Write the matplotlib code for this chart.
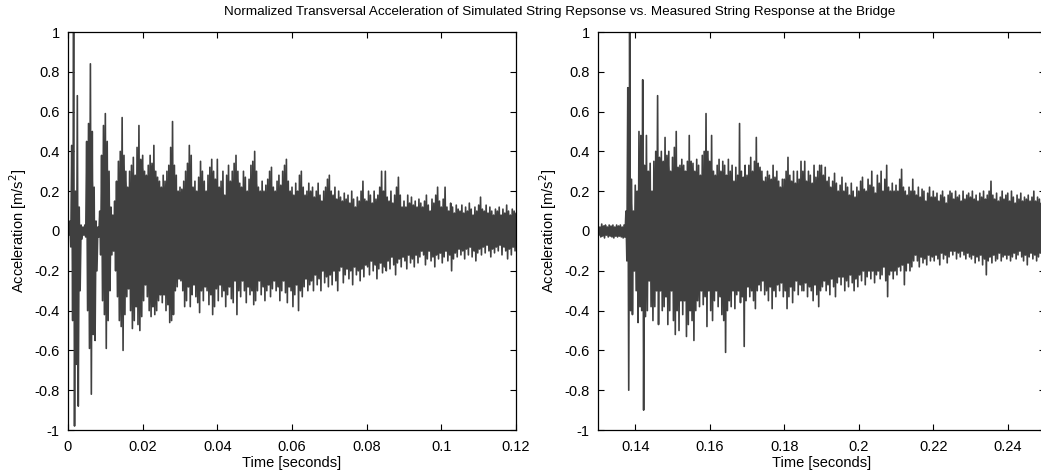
import numpy as np
import matplotlib
matplotlib.use("Agg")
import matplotlib.pyplot as plt
from matplotlib.ticker import FuncFormatter

plt.rcParams['font.family'] = ['Liberation Sans', 'DejaVu Sans']

# ---------------- data (peak envelopes, dt = 0.5 ms) ----------------
sim_t0 = 0.0
meas_t0 = 0.13
dt = 0.0005

sim_upper = [
    0.02, 0.05, 0.43, 1.0, 0.2, 0.68, 0.12, 0.03, 0.02, 0.03,
    0.45, 0.54, 0.84, 0.5, 0.22, 0.05, 0.02, 0.1, 0.38, 0.53,
    0.59, 0.45, 0.3, 0.12, 0.08, 0.15, 0.25, 0.35, 0.4, 0.57,
    0.38, 0.3, 0.22, 0.3, 0.33, 0.37, 0.28, 0.42, 0.53, 0.36,
    0.38, 0.3, 0.28, 0.33, 0.38, 0.34, 0.43, 0.3, 0.27, 0.25,
    0.22, 0.28, 0.25, 0.3, 0.33, 0.42, 0.55, 0.33, 0.28, 0.2,
    0.22, 0.21, 0.25, 0.3, 0.34, 0.43, 0.38, 0.22, 0.25, 0.2,
    0.27, 0.35, 0.3, 0.25, 0.2, 0.28, 0.32, 0.36, 0.3, 0.26,
    0.36, 0.22, 0.25, 0.3, 0.18, 0.28, 0.33, 0.25, 0.3, 0.34,
    0.38, 0.3, 0.24, 0.22, 0.3, 0.27, 0.2, 0.26, 0.33, 0.35,
    0.4, 0.3, 0.22, 0.2, 0.25, 0.2, 0.23, 0.26, 0.3, 0.32,
    0.22, 0.2, 0.25, 0.28, 0.23, 0.3, 0.33, 0.36, 0.25, 0.2,
    0.22, 0.18, 0.24, 0.2, 0.28, 0.3, 0.22, 0.18, 0.2, 0.24,
    0.2, 0.22, 0.17, 0.2, 0.24, 0.18, 0.15, 0.2, 0.22, 0.26,
    0.28, 0.2, 0.18, 0.22, 0.16, 0.2, 0.17, 0.15, 0.19, 0.16,
    0.18, 0.14, 0.2, 0.16, 0.12, 0.17, 0.15, 0.2, 0.25, 0.16,
    0.15, 0.2, 0.18, 0.14, 0.2, 0.16, 0.18, 0.22, 0.3, 0.2,
    0.3, 0.17, 0.15, 0.2, 0.14, 0.18, 0.22, 0.27, 0.18, 0.12,
    0.15, 0.12, 0.18, 0.14, 0.17, 0.13, 0.15, 0.12, 0.16, 0.14,
    0.12, 0.15, 0.18, 0.13, 0.1, 0.16, 0.14, 0.18, 0.22, 0.15,
    0.12, 0.16, 0.22, 0.12, 0.1, 0.14, 0.12, 0.09, 0.13, 0.11,
    0.1, 0.13, 0.09, 0.12, 0.1, 0.14, 0.11, 0.08, 0.12, 0.1,
    0.13, 0.17, 0.11, 0.1, 0.13, 0.09, 0.12, 0.1, 0.08, 0.11,
    0.1, 0.12, 0.08, 0.11, 0.09, 0.13, 0.1, 0.08, 0.11, 0.1,
    0.09,
]
sim_lower = [
    -0.02, -0.08, -0.45, -0.98, -0.67, -0.88, -0.3, -0.04, -0.02, -0.03,
    -0.4, -0.59, -0.82, -0.52, -0.55, -0.2, -0.03, -0.12, -0.35, -0.42,
    -0.59, -0.45, -0.3, -0.12, -0.1, -0.2, -0.33, -0.45, -0.48, -0.6,
    -0.42, -0.33, -0.29, -0.4, -0.49, -0.45, -0.38, -0.47, -0.5, -0.43,
    -0.35, -0.27, -0.33, -0.4, -0.43, -0.38, -0.42, -0.4, -0.35, -0.32,
    -0.36, -0.32, -0.4, -0.37, -0.46, -0.45, -0.42, -0.3, -0.28, -0.24,
    -0.25, -0.3, -0.38, -0.35, -0.28, -0.38, -0.32, -0.27, -0.33, -0.36,
    -0.41, -0.3, -0.35, -0.28, -0.3, -0.37, -0.32, -0.42, -0.38, -0.29,
    -0.35, -0.27, -0.33, -0.3, -0.38, -0.32, -0.28, -0.34, -0.36, -0.25,
    -0.42, -0.3, -0.33, -0.25, -0.3, -0.36, -0.28, -0.32, -0.3, -0.37,
    -0.35, -0.3, -0.25, -0.32, -0.28, -0.35, -0.3, -0.27, -0.33, -0.29,
    -0.25, -0.3, -0.28, -0.35, -0.3, -0.25, -0.31, -0.36, -0.28, -0.3,
    -0.38, -0.32, -0.27, -0.4, -0.3, -0.33, -0.28, -0.24, -0.3, -0.27,
    -0.25, -0.3, -0.22, -0.27, -0.24, -0.3, -0.2, -0.26, -0.23, -0.28,
    -0.22, -0.27, -0.2, -0.25, -0.3, -0.2, -0.18, -0.26, -0.22, -0.19,
    -0.24, -0.2, -0.27, -0.18, -0.22, -0.2, -0.25, -0.19, -0.23, -0.17,
    -0.18, -0.22, -0.15, -0.2, -0.17, -0.24, -0.19, -0.16, -0.21, -0.18,
    -0.2, -0.15, -0.19, -0.13, -0.17, -0.22, -0.16, -0.14, -0.18, -0.13,
    -0.15, -0.19, -0.12, -0.16, -0.14, -0.18, -0.12, -0.16, -0.13, -0.1,
    -0.12, -0.17, -0.14, -0.1, -0.15, -0.13, -0.18, -0.12, -0.14, -0.11,
    -0.16, -0.13, -0.1, -0.15, -0.12, -0.2, -0.14, -0.11, -0.13, -0.09,
    -0.12, -0.1, -0.14, -0.09, -0.12, -0.08, -0.13, -0.1, -0.15, -0.11,
    -0.09, -0.12, -0.08, -0.11, -0.07, -0.1, -0.13, -0.09, -0.11, -0.08,
    -0.1, -0.07, -0.12, -0.08, -0.1, -0.14, -0.09, -0.12, -0.08, -0.1,
    -0.1,
]

meas_upper = [
    0.03, 0.02, 0.035, 0.025, 0.03, 0.02, 0.03, 0.025, 0.03, 0.02,
    0.03, 0.025, 0.03, 0.02, 0.03, 0.1, 0.72, 1.0, 0.26, 0.1,
    0.23, 0.2, 0.5, 0.48, 0.76, 0.33, 0.48, 0.3, 0.34, 0.2,
    0.35, 0.4, 0.68, 0.37, 0.4, 0.35, 0.47, 0.38, 0.4, 0.3,
    0.37, 0.42, 0.5, 0.32, 0.33, 0.36, 0.33, 0.3, 0.35, 0.48,
    0.35, 0.34, 0.3, 0.36, 0.33, 0.28, 0.38, 0.4, 0.59, 0.4,
    0.35, 0.48, 0.3, 0.28, 0.33, 0.36, 0.3, 0.35, 0.33, 0.28,
    0.36, 0.3, 0.33, 0.25, 0.32, 0.28, 0.54, 0.3, 0.27, 0.33,
    0.28, 0.33, 0.37, 0.3, 0.35, 0.47, 0.34, 0.32, 0.3, 0.25,
    0.27, 0.3, 0.28, 0.26, 0.33, 0.27, 0.3, 0.25, 0.22, 0.26,
    0.26, 0.3, 0.37, 0.28, 0.25, 0.3, 0.24, 0.3, 0.26, 0.35,
    0.3, 0.35, 0.25, 0.3, 0.28, 0.24, 0.33, 0.27, 0.3, 0.33,
    0.33, 0.28, 0.32, 0.25, 0.27, 0.22, 0.25, 0.29, 0.24, 0.2,
    0.23, 0.27, 0.2, 0.24, 0.22, 0.18, 0.24, 0.2, 0.17, 0.22,
    0.2, 0.25, 0.27, 0.21, 0.2, 0.26, 0.23, 0.3, 0.22, 0.19,
    0.28, 0.24, 0.3, 0.2, 0.26, 0.33, 0.22, 0.2, 0.24, 0.2,
    0.23, 0.2, 0.26, 0.31, 0.22, 0.2, 0.18, 0.22, 0.2, 0.26,
    0.2, 0.18, 0.22, 0.17, 0.21, 0.2, 0.15, 0.19, 0.22, 0.17,
    0.2, 0.17, 0.19, 0.15, 0.18, 0.2, 0.17, 0.14, 0.18, 0.2,
    0.19, 0.16, 0.2, 0.17, 0.18, 0.15, 0.2, 0.16, 0.18, 0.19,
    0.17, 0.2, 0.16, 0.18, 0.15, 0.19, 0.17, 0.2, 0.16, 0.18,
    0.2, 0.25, 0.18, 0.16, 0.19, 0.15, 0.17, 0.2, 0.16, 0.18,
    0.19, 0.15, 0.2, 0.17, 0.14, 0.18, 0.16, 0.19, 0.15, 0.17,
    0.16, 0.18, 0.15, 0.17, 0.2, 0.15, 0.17, 0.16, 0.14, 0.16,
    0.15,
]
meas_lower = [
    -0.02, -0.03, -0.025, -0.035, -0.02, -0.03, -0.025, -0.03, -0.035, -0.025,
    -0.03, -0.025, -0.03, -0.035, -0.03, -0.15, -0.8, -0.4, -0.42, -0.2,
    -0.3, -0.46, -0.38, -0.4, -0.9, -0.43, -0.4, -0.25, -0.38, -0.45,
    -0.38, -0.3, -0.47, -0.3, -0.4, -0.38, -0.33, -0.47, -0.4, -0.3,
    -0.45, -0.52, -0.4, -0.5, -0.35, -0.42, -0.35, -0.53, -0.47, -0.4,
    -0.45, -0.55, -0.4, -0.35, -0.38, -0.3, -0.37, -0.33, -0.48, -0.3,
    -0.4, -0.45, -0.35, -0.3, -0.38, -0.33, -0.42, -0.45, -0.61, -0.4,
    -0.35, -0.38, -0.3, -0.39, -0.32, -0.3, -0.36, -0.33, -0.58, -0.35,
    -0.28, -0.33, -0.3, -0.35, -0.39, -0.3, -0.27, -0.3, -0.25, -0.32,
    -0.3, -0.35, -0.28, -0.39, -0.3, -0.33, -0.27, -0.3, -0.26, -0.33,
    -0.3, -0.39, -0.33, -0.28, -0.36, -0.3, -0.25, -0.32, -0.27, -0.3,
    -0.3, -0.26, -0.33, -0.28, -0.3, -0.35, -0.27, -0.32, -0.38, -0.3,
    -0.28, -0.25, -0.3, -0.27, -0.32, -0.24, -0.28, -0.33, -0.26, -0.23,
    -0.27, -0.23, -0.3, -0.25, -0.28, -0.22, -0.26, -0.3, -0.24, -0.28,
    -0.22, -0.25, -0.2, -0.27, -0.23, -0.2, -0.24, -0.2, -0.26, -0.22,
    -0.2, -0.24, -0.22, -0.18, -0.25, -0.33, -0.22, -0.2, -0.24, -0.2,
    -0.22, -0.18, -0.2, -0.17, -0.27, -0.2, -0.16, -0.2, -0.18, -0.15,
    -0.12, -0.15, -0.18, -0.13, -0.16, -0.14, -0.17, -0.12, -0.15, -0.13,
    -0.15, -0.12, -0.14, -0.17, -0.11, -0.14, -0.12, -0.16, -0.13, -0.1,
    -0.12, -0.1, -0.14, -0.11, -0.13, -0.1, -0.12, -0.14, -0.11, -0.13,
    -0.14, -0.12, -0.16, -0.13, -0.15, -0.12, -0.17, -0.14, -0.22, -0.15,
    -0.13, -0.16, -0.12, -0.15, -0.14, -0.11, -0.15, -0.13, -0.12, -0.14,
    -0.12, -0.15, -0.13, -0.11, -0.14, -0.12, -0.1, -0.13, -0.15, -0.12,
    -0.17, -0.13, -0.11, -0.14, -0.12, -0.15, -0.13, -0.11, -0.14, -0.12,
    -0.12,
]

sim_xticks = [0, 0.02, 0.04, 0.06, 0.08, 0.1, 0.12]
meas_xticks = [0.14, 0.16, 0.18, 0.2, 0.22, 0.24]
yticks = [-1, -0.8, -0.6, -0.4, -0.2, 0, 0.2, 0.4, 0.6, 0.8, 1]

title = ("Normalized Transversal Acceleration of Simulated String Repsonse "
         "vs. Measured String Response at the Bridge")
xlabel = "Time [seconds]"
ylabel = "Acceleration [m/s$^2$]"

# ---------------- drawing ----------------
W, H = 1041, 475
fig = plt.figure(figsize=(W / 100, H / 100), dpi=100)
wave_color = "#404040"


def draw_wave(ax, t0, up, lo):
    up = np.asarray(up, float)
    lo = np.asarray(lo, float)
    t = t0 + dt * np.arange(len(up))
    # solid core: local minimum of neighbouring peaks
    up_p = np.pad(up, 1, mode="edge")
    lo_p = np.pad(lo, 1, mode="edge")
    core_up = np.minimum(np.minimum(up_p[:-2], up_p[1:-1]), up_p[2:])
    core_lo = np.maximum(np.maximum(lo_p[:-2], lo_p[1:-1]), lo_p[2:])
    ax.fill_between(t + dt / 4, core_lo, core_up, color=wave_color, lw=0)
    x = np.empty(2 * len(up))
    y = np.empty(2 * len(up))
    x[0::2] = t
    x[1::2] = t + dt / 2
    y[0::2] = up
    y[1::2] = lo
    ax.plot(x, y, color=wave_color, lw=1.2)


def style(ax, xlim, xticks):
    ax.set_xlim(*xlim)
    ax.set_ylim(-1, 1)
    ax.set_xticks(xticks)
    ax.set_yticks(yticks)
    fmt = FuncFormatter(lambda v, p: "%g" % round(v, 4))
    ax.xaxis.set_major_formatter(fmt)
    ax.yaxis.set_major_formatter(fmt)
    ax.tick_params(direction="in", length=4, width=0.8, top=True, right=True,
                   labelsize=10.5, colors="black")
    ax.tick_params(axis="y", pad=6)
    ax.tick_params(axis="x", pad=7)
    for s in ax.spines.values():
        s.set_linewidth(0.9)
    ax.set_xlabel(xlabel, fontsize=10.5, labelpad=2)
    ax.set_ylabel(ylabel, fontsize=10.5, labelpad=4)


ax1 = fig.add_axes([68 / W, 45 / H, 448 / W, 398 / H])
draw_wave(ax1, sim_t0, sim_upper, sim_lower)
style(ax1, (0, 0.12), sim_xticks)

ax2 = fig.add_axes([598 / W, 45 / H, 447 / W, 398 / H])
draw_wave(ax2, meas_t0, meas_upper, meas_lower)
style(ax2, (0.13, 0.25), meas_xticks)

fig.text(560 / W, 1 - 12 / H, title, ha="center", va="center", fontsize=9.7)

fig.savefig("out.png", dpi=100)
